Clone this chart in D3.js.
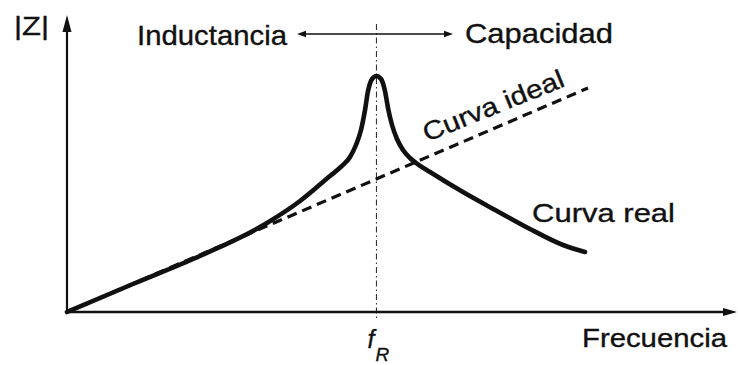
<!DOCTYPE html>
<html>
<head>
<meta charset="utf-8">
<script src="https://cdn.jsdelivr.net/npm/d3@7"></script>
<style>
  html, body { margin: 0; padding: 0; background: #fff; }
  svg text { font-family: "Liberation Sans", Arial, Helvetica, sans-serif; fill: #111; stroke: #111; stroke-width: 0.35; }
</style>
</head>
<body>
<svg id="chart" width="738" height="365"></svg>
<script>
// Impedance |Z| versus frequency: measured (real) curve with resonance peak
const realFreq = [0, 9.85, 19.85, 29.85, 34.78, 39.25, 41.04, 42.24, 43.13, 43.88, 44.48, 44.93, 45.52, 46.19,
                  46.87, 47.46, 47.91, 48.51, 49.25, 50.15, 51.19, 52.54, 54.18, 59.10, 64.18, 69.10, 74.03, 77.31];
const realZ    = [0, 9.43, 18.86, 29.97, 37.37, 45.79, 49.16, 52.19, 56.23, 61.28, 68.01, 74.41, 78.45, 79.46,
                  78.45, 74.41, 68.69, 62.96, 58.25, 54.55, 51.85, 49.49, 47.14, 40.40, 34.01, 27.95, 22.56, 20.20];
// Ideal (purely inductive) behaviour: straight line
const idealFreq = [0, 77.76];
const idealZ    = [0, 75.42];
// Resonance frequency
const resonanceFreq = 46.19;

const labels = {
  yAxis: "|Z|",
  xAxis: "Frecuencia",
  left: "Inductancia",
  right: "Capacidad",
  ideal: "Curva ideal",
  real: "Curva real",
  fr: "f",
  frSub: "R"
};

const svg = d3.select("#chart");
const x = d3.scaleLinear().domain([0, 100]).range([67, 737]);
const y = d3.scaleLinear().domain([0, 100]).range([312, 15]);

const ink = "#111";

// Arrowhead helper (filled triangle pointing in direction angle, tip at (tx,ty))
function arrowHead(tx, ty, angle, len, half) {
  const c = Math.cos(angle), s = Math.sin(angle);
  const bx = tx - c * len, by = ty - s * len;
  const pts = [[tx, ty], [bx - s * half, by + c * half], [bx + s * half, by - c * half]];
  svg.append("path").attr("d", "M" + pts.map(p => p.join(",")).join("L") + "Z").attr("fill", ink);
}

// Resonance marker (dash-dot vertical)
svg.append("line")
  .attr("x1", x(resonanceFreq)).attr("x2", x(resonanceFreq))
  .attr("y1", 24).attr("y2", y(0) + 6)
  .attr("stroke", "#333").attr("stroke-width", 1.1)
  .attr("stroke-dasharray", "6,3,1.5,3");

// Axes
const x0 = x(0), y0 = y(0);
svg.append("line").attr("x1", x0).attr("y1", y0).attr("x2", x0).attr("y2", y(100) + 14)
  .attr("stroke", ink).attr("stroke-width", 2.2);
arrowHead(x0, y(100), -Math.PI / 2, 17, 4.5);
svg.append("line").attr("x1", x0 - 1).attr("y1", y0).attr("x2", x(100) - 12).attr("y2", y0)
  .attr("stroke", ink).attr("stroke-width", 2.4);
arrowHead(x(100), y0, 0, 14, 4);

// Ideal curve (dashed)
const idealData = idealFreq.map((f, i) => [f, idealZ[i]]);
const straight = d3.line().x(d => x(d[0])).y(d => y(d[1]));
svg.append("path").datum(idealData)
  .attr("d", straight)
  .attr("fill", "none").attr("stroke", ink).attr("stroke-width", 3.2)
  .attr("stroke-dasharray", "10,6");

// Real curve
const realData = realFreq.map((f, i) => [f, realZ[i]]);
const smooth = d3.line().x(d => x(d[0])).y(d => y(d[1])).curve(d3.curveMonotoneX);
svg.append("path").datum(realData)
  .attr("d", smooth)
  .attr("fill", "none").attr("stroke", ink).attr("stroke-width", 4.6)
  .attr("stroke-linecap", "round").attr("stroke-linejoin", "round");

// Double arrow between Inductancia and Capacidad
svg.append("line").attr("x1", 304).attr("x2", 446).attr("y1", 34).attr("y2", 34)
  .attr("stroke", ink).attr("stroke-width", 1.4);
arrowHead(297, 34, Math.PI, 9, 3.2);
arrowHead(453, 34, 0, 9, 3.2);

// Texts
svg.append("text").attr("x", 14).attr("y", 35).attr("font-size", 26)
  .attr("textLength", 35).attr("lengthAdjust", "spacingAndGlyphs").text(labels.yAxis);
svg.append("text").attr("x", 137).attr("y", 45).attr("font-size", 28)
  .attr("textLength", 150).attr("lengthAdjust", "spacingAndGlyphs").text(labels.left);
svg.append("text").attr("x", 465).attr("y", 43).attr("font-size", 28)
  .attr("textLength", 148).attr("lengthAdjust", "spacingAndGlyphs").text(labels.right);
svg.append("text").attr("x", 582).attr("y", 347).attr("font-size", 26)
  .attr("textLength", 145).attr("lengthAdjust", "spacingAndGlyphs").text(labels.xAxis);
svg.append("text").attr("x", 532).attr("y", 222).attr("font-size", 26)
  .attr("textLength", 143).attr("lengthAdjust", "spacingAndGlyphs").text(labels.real);
svg.append("text").attr("transform", "translate(427,142) rotate(-22)").attr("font-size", 26)
  .attr("textLength", 150).attr("lengthAdjust", "spacingAndGlyphs").text(labels.ideal);

// f_R label
const frText = svg.append("text").attr("x", x(resonanceFreq) - 9).attr("y", 348)
  .attr("font-size", 25).attr("font-style", "italic");
frText.append("tspan").text(labels.fr);
frText.append("tspan").attr("dx", 1).attr("dy", 13).attr("font-size", 19).text(labels.frSub);
</script>
</body>
</html>
